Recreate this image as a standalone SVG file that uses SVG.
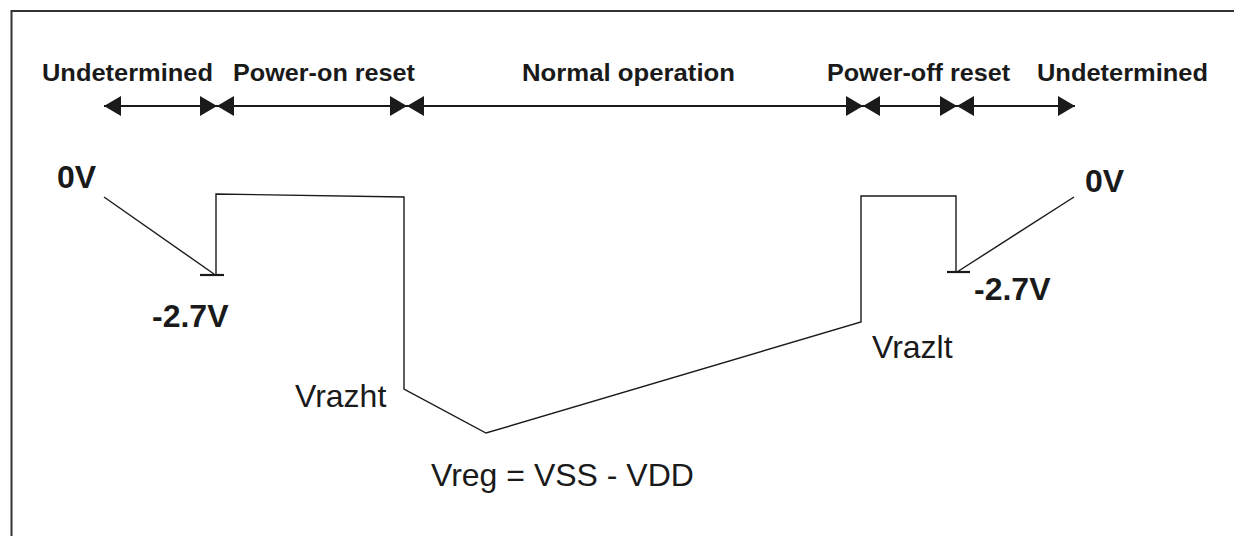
<svg xmlns="http://www.w3.org/2000/svg" width="1234" height="536" viewBox="0 0 1234 536">
<style>
.phase{font-family:"Liberation Sans",Arial,sans-serif;font-weight:bold;font-size:24.5px;fill:#1a1a1a}
.volt{font-family:"Liberation Sans",Arial,sans-serif;font-weight:bold;font-size:32px;fill:#1a1a1a}
.lbl{font-family:"Liberation Sans",Arial,sans-serif;font-size:32px;fill:#1a1a1a}
.arr{stroke:#1a1a1a;stroke-width:2;fill:none;marker-start:url(#ah);marker-end:url(#ah)}
.wave{stroke:#1a1a1a;stroke-width:1.4;fill:none}
.tick{stroke:#1a1a1a;stroke-width:2.2}
</style>
<defs>
<marker id="ah" markerUnits="userSpaceOnUse" markerWidth="18" markerHeight="22" refX="17" refY="10" orient="auto-start-reverse" viewBox="0 0 18 20">
<path d="M0,0 L17,10 L0,20 Z" fill="#1a1a1a"/>
</marker>
</defs>
<rect width="1234" height="536" fill="#fff"/>
<g id="frame" stroke="#333" stroke-width="2" fill="none">
<path d="M11.5,536 V11 H1234"/>
</g>
<g id="phases">
<text class="phase" x="42" y="81" textLength="171" lengthAdjust="spacingAndGlyphs">Undetermined</text>
<text class="phase" x="233" y="81" textLength="182" lengthAdjust="spacingAndGlyphs">Power-on reset</text>
<text class="phase" x="522" y="81" textLength="213" lengthAdjust="spacingAndGlyphs">Normal operation</text>
<text class="phase" x="827" y="81" textLength="183" lengthAdjust="spacingAndGlyphs">Power-off reset</text>
<text class="phase" x="1037" y="81" textLength="171" lengthAdjust="spacingAndGlyphs">Undetermined</text>
</g>
<g id="connectors">
<line class="arr" x1="104" y1="106" x2="217" y2="106"/>
<line class="arr" x1="217" y1="106" x2="407" y2="106"/>
<line class="arr" x1="407" y1="106" x2="863" y2="106"/>
<line class="arr" x1="863" y1="106" x2="957" y2="106"/>
<line class="arr" x1="957" y1="106" x2="1075" y2="106"/>
</g>
<g id="waveform">
<polyline class="wave" points="104,197 214,274"/>
<line class="tick" x1="200" y1="275" x2="224" y2="275"/>
<polyline class="wave" points="216,275 216,194 404,197 404,389 486,433 861,322 861,196 956,196 956,272"/>
<line class="tick" x1="947" y1="272" x2="970" y2="272"/>
<polyline class="wave" points="957,272 1074,197"/>
</g>
<g id="labels">
<text class="volt" x="57" y="188">0V</text>
<text class="volt" x="152" y="327">-2.7V</text>
<text class="volt" x="1085" y="192">0V</text>
<text class="volt" x="974" y="300">-2.7V</text>
<text class="lbl" x="295" y="407">Vrazht</text>
<text class="lbl" x="872" y="358">Vrazlt</text>
<text class="lbl" x="431" y="486">Vreg = VSS - VDD</text>
</g>
</svg>
